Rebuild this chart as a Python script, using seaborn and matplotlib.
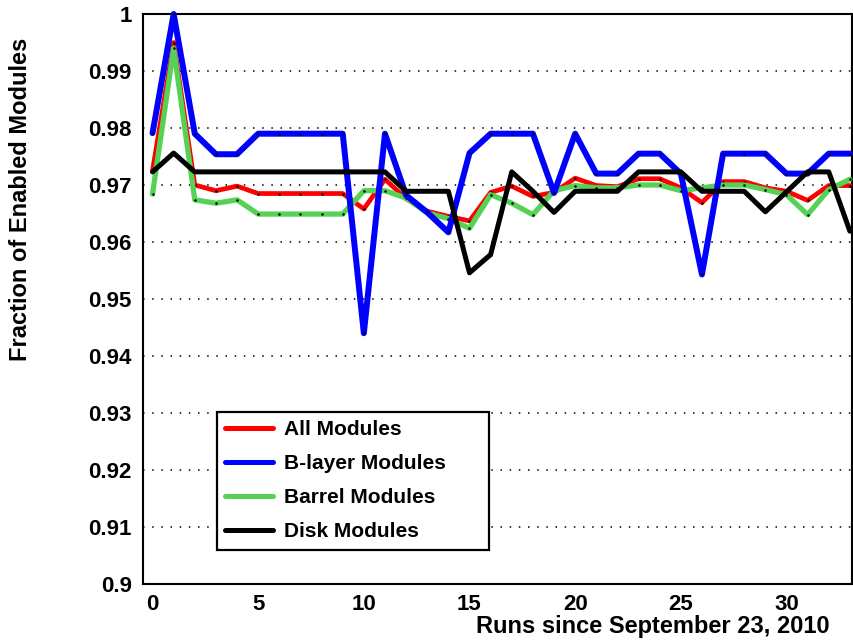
import matplotlib
matplotlib.use("Agg")
import matplotlib.pyplot as plt
from matplotlib.lines import Line2D
from matplotlib.ticker import MultipleLocator, FuncFormatter
import seaborn as sns
import pandas as pd

runs = list(range(34))
all_modules = [0.9725, 0.9950, 0.9700, 0.9690, 0.9698, 0.9685, 0.9685, 0.9685, 0.9685, 0.9685,
               0.9658, 0.9710, 0.9676, 0.9654, 0.9645, 0.9637, 0.9687, 0.9698, 0.9680, 0.9687,
               0.9712, 0.9699, 0.9697, 0.9711, 0.9711, 0.9695, 0.9669, 0.9706, 0.9706, 0.9695,
               0.9689, 0.9673, 0.9699, 0.9699]
blayer_modules = [0.9791, 1.0000, 0.9790, 0.9754, 0.9754, 0.9790, 0.9790, 0.9790, 0.9790, 0.9790,
                  0.9440, 0.9790, 0.9682, 0.9652, 0.9617, 0.9756, 0.9790, 0.9790, 0.9790, 0.9686,
                  0.9790, 0.9720, 0.9720, 0.9755, 0.9755, 0.9720, 0.9543, 0.9755, 0.9755, 0.9755,
                  0.9720, 0.9720, 0.9755, 0.9755]
barrel_modules = [0.9684, 0.9940, 0.9674, 0.9668, 0.9674, 0.9649, 0.9649, 0.9649, 0.9649, 0.9649,
                  0.9690, 0.9690, 0.9677, 0.9651, 0.9641, 0.9624, 0.9683, 0.9668, 0.9648, 0.9690,
                  0.9699, 0.9695, 0.9695, 0.9700, 0.9700, 0.9690, 0.9695, 0.9700, 0.9700, 0.9692,
                  0.9683, 0.9648, 0.9692, 0.9710]
disk_modules = [0.9723, 0.9756, 0.9723, 0.9723, 0.9723, 0.9723, 0.9723, 0.9723, 0.9723, 0.9723,
                0.9723, 0.9723, 0.9689, 0.9689, 0.9689, 0.9546, 0.9578, 0.9723, 0.9689, 0.9652,
                0.9689, 0.9689, 0.9689, 0.9723, 0.9723, 0.9723, 0.9689, 0.9689, 0.9689, 0.9653,
                0.9688, 0.9723, 0.9723, 0.9619]

labels = ["All Modules", "B-layer Modules", "Barrel Modules", "Disk Modules"]
colors = ["#ff0000", "#0000ff", "#55d255", "#000000"]
widths = [3.4, 4.3, 3.8, 3.6]
series = [all_modules, blayer_modules, barrel_modules, disk_modules]
draw_order = [0, 2, 1, 3]

sns.set_style("white")
plt.rcParams["font.family"] = ["Liberation Sans", "DejaVu Sans"]
plt.rcParams["font.weight"] = "bold"
plt.rcParams["text.color"] = "black"
plt.rcParams["axes.labelcolor"] = "black"
plt.rcParams["xtick.color"] = "black"
plt.rcParams["ytick.color"] = "black"

fig = plt.figure(figsize=(8.54, 6.42), dpi=100)
ax = fig.add_axes([143 / 854, 1 - 584 / 642, 709 / 854, 570 / 642])

for z, i in enumerate(draw_order):
    df = pd.DataFrame({"run": runs, "frac": series[i]})
    sns.lineplot(data=df, x="run", y="frac", ax=ax, color=colors[i], linewidth=widths[i],
                 marker="o", markersize=1.8, markerfacecolor="black", markeredgecolor="black",
                 markeredgewidth=0, zorder=3 + z, clip_on=False)

ax.set_xlim(-0.45, 33.1)
ax.set_ylim(0.9, 1.0)

ax.xaxis.set_major_locator(MultipleLocator(5))
ax.xaxis.set_minor_locator(MultipleLocator(1))
ax.yaxis.set_major_locator(MultipleLocator(0.01))
ax.yaxis.set_minor_locator(MultipleLocator(0.002))
ax.yaxis.set_major_formatter(FuncFormatter(lambda v, p: f"{round(v, 3):g}"))
ax.xaxis.set_major_formatter(FuncFormatter(lambda v, p: f"{int(round(v))}"))

ax.tick_params(axis="both", which="both", direction="in", width=1.1, colors="black",
               labelcolor="black", top=False, right=False, labelsize=16)
ax.tick_params(axis="y", which="major", length=15, pad=8)
ax.tick_params(axis="y", which="minor", length=7.5)
ax.tick_params(axis="x", which="major", length=11, pad=7)
ax.tick_params(axis="x", which="minor", length=6)
for lab in ax.get_xticklabels() + ax.get_yticklabels():
    lab.set_fontweight("bold")

ax.yaxis.grid(True, which="major", linestyle=(0, (1, 5)), color="black", linewidth=1.1)
ax.xaxis.grid(False)
ax.set_axisbelow(True)
for s in ax.spines.values():
    s.set_color("black")
    s.set_linewidth(1.5)
    s.set_visible(True)

ax.set_xlabel("Runs since September 23, 2010", fontsize=17, fontweight="bold",
              ha="right", va="top", color="black")
ax.xaxis.set_label_coords(0.969, -0.055)
ax.set_ylabel("Fraction of Enabled Modules", fontsize=17, fontweight="bold",
              ha="right", va="bottom", color="black")
ax.yaxis.set_label_coords(-0.157, 0.958)

handles = [Line2D([0], [0], color=colors[i], linewidth=3.6) for i in range(4)]
leg = ax.legend(handles, labels, loc="upper left",
                bbox_to_anchor=(0.104, 0.061, 0.384, 0.241), mode="expand",
                borderaxespad=0, frameon=True, fancybox=False, framealpha=1,
                edgecolor="black", prop={"weight": "bold", "size": 15},
                handlelength=2.3, handletextpad=0.55, labelspacing=0.72, borderpad=0.4)
leg.get_frame().set_linewidth(1.6)
leg.set_zorder(20)
for t in leg.get_texts():
    t.set_color("black")

fig.savefig("out.png", dpi=100)
